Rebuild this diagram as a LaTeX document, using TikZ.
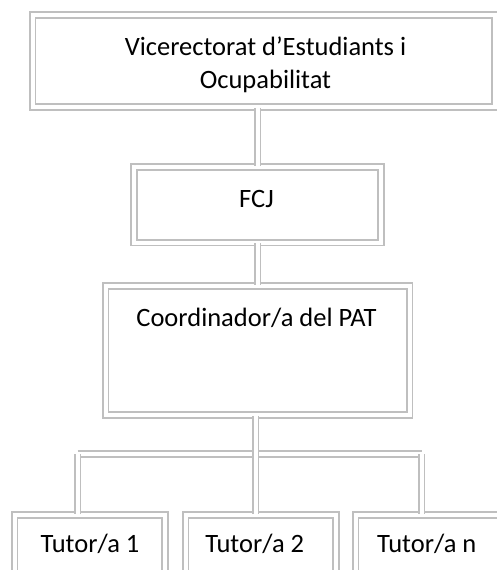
\documentclass[tikz,border=0pt]{standalone}
\usepackage{fontspec}
\setmainfont{Carlito}
\definecolor{boxgray}{HTML}{BFBFBF}
\tikzset{
  dbl/.style={draw=boxgray, line width=1.6pt, double=white, double distance=4pt},
  orgbox/.style={dbl, rectangle, inner sep=0pt},
  lbl/.style={anchor=base, inner sep=0pt, font=\fontsize{26.5}{33}\selectfont, text=black},
}
\begin{document}
\begin{tikzpicture}[x=1pt,y=-1pt]
\useasboundingbox (0,0) rectangle (497,570);
% boxes
\node[orgbox, minimum width=462.5pt, minimum height=92pt] (top) at (263.75,61) {};
\node[orgbox, minimum width=247pt, minimum height=75.5pt] (fcj) at (257.5,204.75) {};
\node[orgbox, minimum width=304pt, minimum height=129pt] (coord) at (257.5,350.5) {};
\node[orgbox, minimum width=150.5pt, minimum height=65pt] (t1) at (89.75,547.5) {};
\node[orgbox, minimum width=150.5pt, minimum height=65pt] (t2) at (260.75,547.5) {};
\node[orgbox, minimum width=150.5pt, minimum height=65pt] (t3) at (430.75,547.5) {};
% texts
\node[lbl] (topA) at (265.5,55) {Vicerectorat d’Estudiants i};
\node[lbl] (topB) at (265.5,88) {Ocupabilitat};
\node[lbl] (fcjt) at (256.5,207) {FCJ};
\node[lbl] (coordt) at (256.5,326) {Coordinador/a del PAT};
\node[lbl] (t1t) at (90,552) {Tutor/a 1};
\node[lbl] (t2t) at (254.7,552) {Tutor/a 2};
\node[lbl] (t3t) at (426.7,552) {Tutor/a n};
% connectors
\coordinate (mid) at (255.5,0);
\coordinate (barL) at (77.5,454);
\coordinate (barR) at (421.5,454);
\draw[dbl] (fcj.north |- top.south) -- (fcj.north);
\draw[dbl] (fcj.south) -- (coord.north);
\draw[dbl] (barL) -- (barR);
\draw[dbl] (barL) -- (barL |- t1.north);
\draw[dbl] (barR) -- (barR |- t3.north);
\draw[dbl] (mid |- coord.south) -- (mid |- t2.north);
\end{tikzpicture}
\end{document}
